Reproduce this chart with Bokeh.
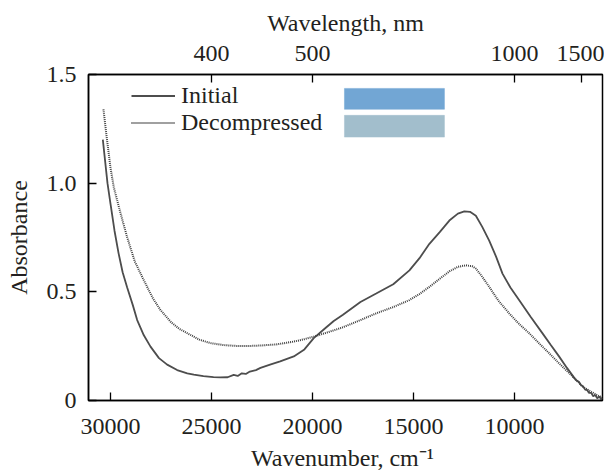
from bokeh.plotting import figure
from bokeh.models import (LinearAxis, FixedTicker, CustomJSTickFormatter, Range1d,
                          Legend, LegendItem)
from bokeh.embed import file_html
from bokeh.resources import INLINE

# ---- data ----
wn_initial = [30380, 30300, 30150, 30000, 29800, 29600, 29400, 29175, 28900, 28680,
              28350, 28020, 27600, 27195, 26700, 26200, 25875, 25400, 24900, 24555,
              24200, 23900, 23700, 23500, 23300, 23100, 22800, 22575, 22100, 21600,
              20926, 20400, 19937, 19400, 18947, 18490, 17625, 16846, 16000, 15200,
              14700, 14210, 13700, 13223, 12800, 12483, 12200, 11910, 11600, 11250,
              10900, 10592, 10200, 9770, 9200, 8618, 8200, 7793, 7400, 6974,
              6800, 6700, 6600, 6500, 6400, 6313, 6200, 6100, 6000, 5900,
              5800, 5700, 5656]
abs_initial = [1.20, 1.13, 1.00, 0.905, 0.78, 0.677, 0.59, 0.52, 0.44, 0.37,
               0.30, 0.248, 0.195, 0.165, 0.14, 0.125, 0.119, 0.112, 0.108, 0.106,
               0.107, 0.118, 0.113, 0.125, 0.122, 0.133, 0.140, 0.150, 0.165, 0.18,
               0.203, 0.235, 0.287, 0.33, 0.366, 0.395, 0.453, 0.492, 0.535, 0.599,
               0.655, 0.721, 0.775, 0.828, 0.86, 0.870, 0.868, 0.85, 0.80, 0.736,
               0.66, 0.584, 0.52, 0.462, 0.385, 0.31, 0.255, 0.203, 0.15, 0.096,
               0.085, 0.07, 0.065, 0.05, 0.048, 0.035, 0.035, 0.02, 0.025, 0.01,
               0.018, 0.005, 0.012]

wn_decomp = [30350, 30200, 30000, 29835, 29500, 29175, 28800, 28350, 27900, 27525,
             27000, 26600, 26205, 25600, 25050, 24400, 23730, 23100, 22575, 21800,
             20926, 20400, 19937, 19200, 18490, 17625, 16846, 16000, 15200, 14700,
             14210, 13700, 13223, 12800, 12404, 12100, 11910, 11600, 11250, 10800,
             10262, 9800, 9274, 8800, 8287, 7800, 7300, 6950, 6643, 6200,
             5820, 5650]
abs_decomp = [1.34, 1.22, 1.07, 0.98, 0.86, 0.751, 0.64, 0.553, 0.47, 0.416,
              0.36, 0.33, 0.31, 0.28, 0.264, 0.255, 0.251, 0.251, 0.253, 0.258,
              0.271, 0.282, 0.294, 0.315, 0.337, 0.37, 0.401, 0.43, 0.462, 0.49,
              0.523, 0.56, 0.594, 0.615, 0.622, 0.618, 0.607, 0.57, 0.523, 0.46,
              0.401, 0.355, 0.31, 0.265, 0.218, 0.172, 0.127, 0.095, 0.065, 0.04,
              0.02, 0.015]

series_names = ["Initial", "Decompressed"]
y_ticks = [0, 0.5, 1.0, 1.5]
y_tick_labels = ["0", "0.5", "1.0", "1.5"]
x_ticks = [30000, 25000, 20000, 15000, 10000]
wavelength_ticks_nm = [400, 500, 1000, 1500]
swatch_colors = ["#72A6D4", "#A2BECC"]

FONT = "Liberation Serif"
TXT = "#231f20"

p = figure(width=604, height=473, x_range=Range1d(31090, 5640), y_range=Range1d(0, 1.5),
           output_backend="svg", toolbar_location=None,
           min_border_left=88, min_border_right=2, min_border_top=74, min_border_bottom=72)
p.background_fill_color = "white"
p.border_fill_color = "white"
p.xgrid.visible = False
p.ygrid.visible = False
p.outline_line_color = "black"
p.outline_line_width = 1.5

def style_axis(ax):
    ax.axis_line_color = "black"
    ax.axis_line_width = 1.5
    ax.major_tick_in = 8
    ax.major_tick_out = 0
    ax.major_tick_line_color = "black"
    ax.major_tick_line_width = 1.3
    ax.minor_tick_line_color = None
    ax.major_label_text_font = FONT
    ax.major_label_text_font_size = "24px"
    ax.major_label_text_color = TXT
    ax.major_label_text_line_height = 0.8
    ax.axis_label_text_font = FONT
    ax.axis_label_text_font_size = "24px"
    ax.axis_label_text_font_style = "normal"
    ax.axis_label_text_color = TXT
    ax.axis_label_text_line_height = 0.8

xa = p.xaxis[0]
style_axis(xa)
xa.ticker = FixedTicker(ticks=x_ticks)
xa.axis_label = "Wavenumber, cm\u207b\u00b9\u00a0"
xa.major_label_standoff = 18
xa.axis_label_standoff = 8

ya = p.yaxis[0]
style_axis(ya)
ya.ticker = FixedTicker(ticks=y_ticks)
ya.major_label_overrides = {t: l for t, l in zip(y_ticks, y_tick_labels)}
ya.axis_label = "Absorbance"
ya.major_label_standoff = 12
ya.axis_label_standoff = 12

top = LinearAxis()
style_axis(top)
top.ticker = FixedTicker(ticks=[1e7 / w for w in wavelength_ticks_nm])
top.formatter = CustomJSTickFormatter(code="return String(Math.round(1e7 / tick));")
top.axis_label = "Wavelength, nm"
top.major_label_standoff = 14
top.axis_label_standoff = 7
p.add_layout(top, "above")

r_init = p.line(wn_initial, abs_initial, line_color="#4d4d4d", line_width=1.8)
r_dec = p.line(wn_decomp, abs_decomp, line_color="#404040", line_width=2, line_dash="1 1")

# colour swatches beside the legend
p.quad(left=[18417, 18417], right=[13467, 13467], top=[1.436, 1.312], bottom=[1.340, 1.212],
       fill_color=swatch_colors, line_color=swatch_colors, line_width=0.5)

legend = Legend(items=[LegendItem(label=series_names[0], renderers=[r_init]),
                       LegendItem(label=series_names[1], renderers=[r_dec])],
                location=(43, 264), glyph_width=44, glyph_height=25, label_height=25,
                label_standoff=6, spacing=0, padding=0, margin=0,
                label_text_font=FONT, label_text_font_size="24px", label_text_color=TXT,
                background_fill_alpha=0, border_line_alpha=0)
p.add_layout(legend)

open("out.html", "w").write(file_html(p, INLINE))
